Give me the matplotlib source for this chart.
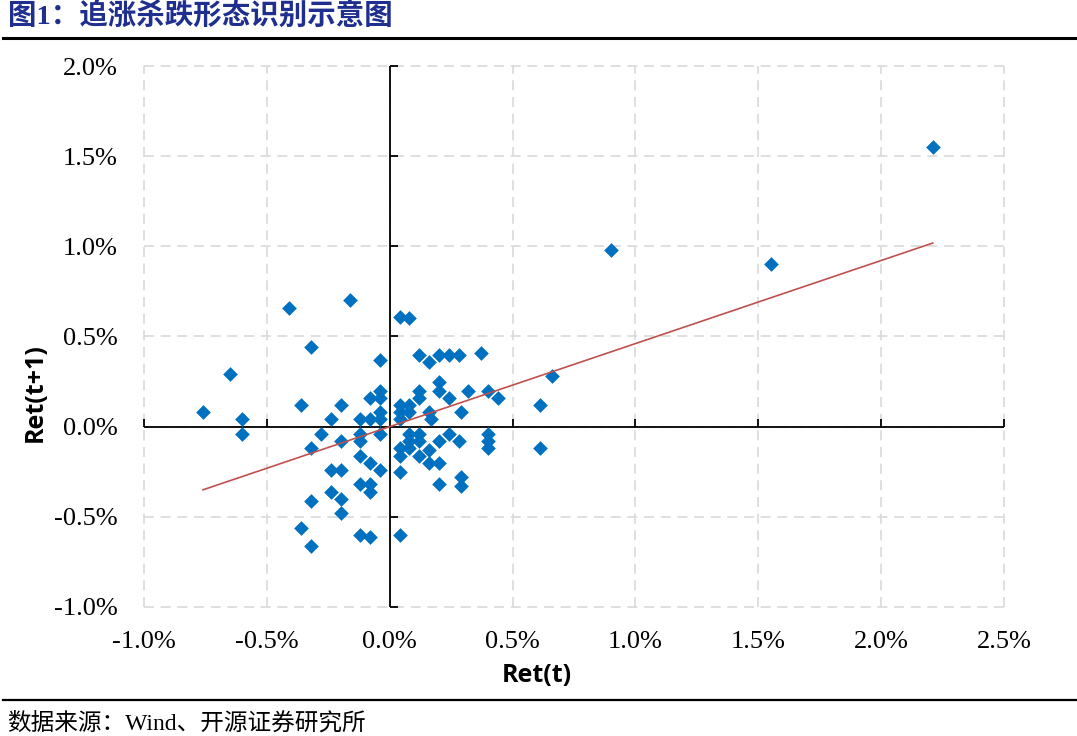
import numpy as np
import matplotlib
matplotlib.use('Agg')
import matplotlib.pyplot as plt
import matplotlib.ticker as mtick
from matplotlib.lines import Line2D

plt.rcParams['axes.unicode_minus'] = False

# daily return (t) vs next-day return (t+1), in percent
ret_t = [-0.76, -0.65, -0.60, -0.60, -0.41, -0.36, -0.36, -0.32, -0.32, -0.32,
         -0.32, -0.28, -0.24, -0.24, -0.24, -0.20, -0.20, -0.20, -0.20, -0.20,
         -0.16, -0.12, -0.12, -0.12, -0.12, -0.12, -0.12, -0.08, -0.08, -0.08,
         -0.08, -0.08, -0.08, -0.04, -0.04, -0.04, -0.04, -0.04, -0.04, -0.04,
         0.04, 0.08, 0.12, 0.16, 0.20, 0.24, 0.28, 0.37, 0.20, 0.20,
         0.12, 0.12, 0.24, 0.32, 0.40, 0.44, 0.66, 0.61, 0.04, 0.08,
         0.04, 0.08, 0.16, 0.29, 0.17, 0.04, 0.08, 0.12, 0.08, 0.12,
         0.04, 0.08, 0.24, 0.20, 0.28, 0.16, 0.40, 0.40, 0.40, 0.61,
         0.04, 0.12, 0.16, 0.20, 0.04, 0.29, 0.29, 0.20, 0.04,
         0.90, 1.55, 2.21]
ret_t1 = [0.08, 0.29, 0.04, -0.04, 0.66, 0.12, -0.56, -0.66, -0.41, 0.44,
          -0.12, -0.04, 0.04, -0.24, -0.36, 0.12, -0.08, -0.24, -0.40, -0.48,
          0.70, -0.16, 0.04, -0.04, -0.08, -0.32, -0.60, 0.04, -0.20, -0.32,
          -0.36, -0.61, 0.16, 0.37, 0.20, 0.16, 0.08, 0.04, -0.04, -0.24,
          0.61, 0.60, 0.40, 0.36, 0.40, 0.40, 0.40, 0.41, 0.25, 0.20,
          0.20, 0.16, 0.16, 0.20, 0.20, 0.16, 0.28, 0.12, 0.12, 0.12,
          0.08, 0.08, 0.08, 0.08, 0.04, 0.04, -0.04, -0.04, -0.08, -0.08,
          -0.12, -0.12, -0.04, -0.08, -0.08, -0.13, -0.04, -0.08, -0.12, -0.12,
          -0.16, -0.16, -0.20, -0.20, -0.25, -0.28, -0.33, -0.32, -0.60,
          0.98, 0.90, 1.55]

x = np.array(ret_t)
y = np.array(ret_t1)

fig = plt.figure(figsize=(10.77, 7.36), dpi=100)
ax = fig.add_axes([0.1337, 0.1753, 0.7985, 0.735])

ax.set_xlim(-1.0, 2.5)
ax.set_ylim(-1.0, 2.0)
ax.set_xticks(np.arange(-1.0, 2.51, 0.5))
ax.set_yticks(np.arange(-1.0, 2.01, 0.5))
ax.xaxis.set_major_formatter(mtick.PercentFormatter(xmax=100, decimals=1))
ax.yaxis.set_major_formatter(mtick.PercentFormatter(xmax=100, decimals=1))

for s in ax.spines.values():
    s.set_visible(False)
ax.grid(True, color='#d9d9d9', linestyle=(0, (6, 4)), linewidth=1.2)
for gl in ax.get_xgridlines() + ax.get_ygridlines():
    gl.set_clip_on(False)
ax.set_axisbelow(True)

ax.tick_params(length=0, labelsize=19)
ax.tick_params(axis='x', pad=17)
ax.tick_params(axis='y', pad=19)
for lab in ax.get_xticklabels() + ax.get_yticklabels():
    lab.set_family('Liberation Serif')

# axes crossing at zero with small ticks
ax.axhline(0, color='black', lw=1.3, zorder=2)
ax.axvline(0, color='black', lw=1.3, zorder=2)
xt = [v for v in ax.get_xticks() if abs(v) > 1e-9]
yt = [v for v in ax.get_yticks() if abs(v) > 1e-9]
ax.plot(xt, np.zeros(len(xt)), ls='none', marker=2, ms=6, mew=1.3, color='black', clip_on=False)
ax.plot(np.zeros(len(yt)), yt, ls='none', marker=1, ms=6, mew=1.3, color='black', clip_on=False)

ax.scatter(x, y, marker='D', s=56, color='#0070c0', linewidths=0, zorder=3)

# linear trend
k, b = np.polyfit(x, y, 1)
xs = np.array([x.min(), x.max()])
ax.plot(xs, k * xs + b, color='#c0504d', lw=1.2, zorder=4)

ax.set_xlabel('Ret(t)', fontsize=18, fontweight='bold', family='Open Sans')
ax.set_ylabel('Ret(t+1)', fontsize=18, fontweight='bold', family='Open Sans')
ax.xaxis.set_label_coords(0.457, -0.126)
ax.xaxis.label.set_va('center')
ax.yaxis.set_label_coords(-0.127, 0.397)
ax.yaxis.label.set_va('center')

fig.text(0.007, 0.977, '图1：追涨杀跌形态识别示意图', fontsize=20.5, fontweight='bold',
         color='#1f2f8f', family=['Liberation Serif', 'Noto Sans CJK SC'],
         ha='left', va='center')
fig.text(0.007, 0.017, '数据来源：Wind、开源证券研究所', fontsize=17,
         family=['Liberation Serif', 'Noto Sans CJK SC'], ha='left', va='center')

fig.add_artist(Line2D([0.003, 1.0], [1 - 38 / 736, 1 - 38 / 736], color='black', lw=2.2))
fig.add_artist(Line2D([0.003, 1.0], [1 - 700 / 736, 1 - 700 / 736], color='black', lw=1.6))

fig.savefig('out.png', dpi=100)
